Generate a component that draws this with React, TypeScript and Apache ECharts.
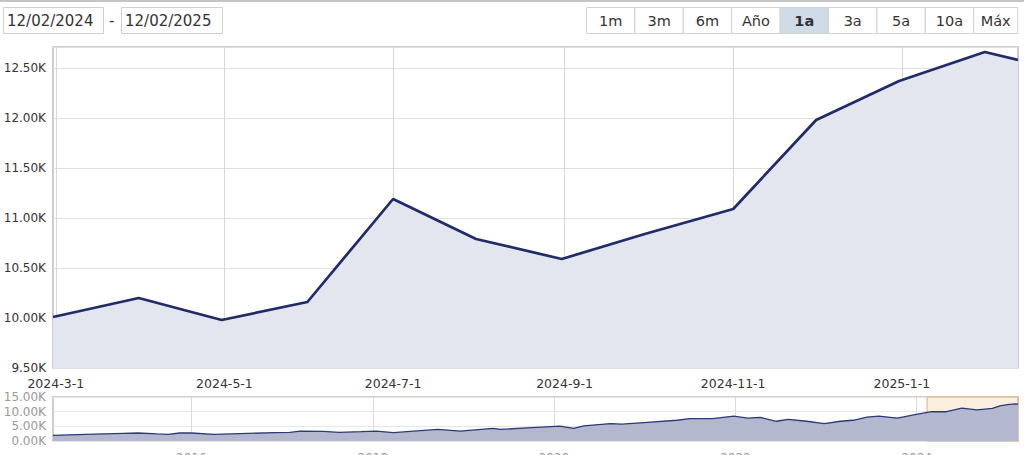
import React, { useEffect, useRef } from 'react';
import * as echarts from 'echarts';

// ---- data ----
const mainDates = ['2024-02-29', '2024-03-31', '2024-04-30', '2024-05-31', '2024-07-01', '2024-07-31', '2024-08-31', '2024-09-30', '2024-11-01', '2024-12-01', '2024-12-31', '2025-01-31', '2025-02-12'];
const mainValues = [10010, 10200, 9980, 10160, 11190, 10790, 10590, 10840, 11090, 11980, 12370, 12660, 12580];
const mainTickDates = ['2024-03-01', '2024-05-01', '2024-07-01', '2024-09-01', '2024-11-01', '2025-01-01'];

const navDates = ['2014-06-23', '2014-11-01', '2015-04-01', '2015-06-01', '2015-08-15', '2015-10-01', '2015-11-15', '2016-01-01', '2016-04-01', '2016-07-15', '2016-12-01', '2017-02-01', '2017-03-15', '2017-06-15', '2017-08-20', '2017-11-15', '2018-01-15', '2018-03-25', '2018-06-01', '2018-09-20', '2018-12-20', '2019-04-30', '2019-05-31', '2019-09-15', '2020-01-25', '2020-03-20', '2020-04-30', '2020-08-15', '2020-09-30', '2020-12-28', '2021-05-10', '2021-07-01', '2021-10-01', '2021-12-25', '2022-02-20', '2022-04-10', '2022-06-15', '2022-08-01', '2022-10-15', '2022-12-25', '2023-02-28', '2023-04-20', '2023-06-15', '2023-08-01', '2023-10-15', '2023-12-20', '2024-02-29', '2024-04-30', '2024-07-01', '2024-08-31', '2024-11-01', '2024-12-01', '2024-12-31', '2025-01-31', '2025-02-12'];
const navValues = [1930, 2270, 2600, 2730, 2400, 2270, 2730, 2730, 2270, 2500, 2830, 2930, 3400, 3270, 2930, 3200, 3400, 2830, 3270, 3930, 3400, 4270, 3930, 4500, 5070, 4270, 5170, 5930, 5730, 6270, 7070, 7600, 7600, 8500, 7830, 8070, 6730, 7400, 6730, 5930, 6730, 7070, 8170, 8500, 7830, 8930, 10010, 9980, 11190, 10590, 11090, 11980, 12370, 12660, 12580];
const navTickDates = ['2016-01-01', '2018-01-01', '2020-01-01', '2022-01-01', '2024-01-01'];
const navRange = ['2014-06-23', '2025-02-12'];
const selectionRange = ['2024-02-12', '2025-02-12'];

const rangeButtons = ['1m', '3m', '6m', 'Año', '1a', '3a', '5a', '10a', 'Máx'];
const activeButton = '1a';
const dateFrom = '12/02/2024';
const dateTo = '12/02/2025';

const FONT = '"DejaVu Sans", Verdana, sans-serif';
const ts = (s: string) => Date.parse(s + 'T00:00:00Z');
const kFmt = (v: number) => (v / 1000).toFixed(2) + 'K';
const dateFmt = (v: number) => {
  const d = new Date(v);
  return `${d.getUTCFullYear()}-${d.getUTCMonth() + 1}-${d.getUTCDate()}`;
};
const yearFmt = (v: number) => String(new Date(v).getUTCFullYear());

function buildGraphic() {
  const els: any[] = [];
  els.push({ type: 'rect', shape: { x: 0, y: 0, width: 1024, height: 2 }, style: { fill: '#c4c4c4' }, silent: true });
  const boxStyle = { fill: '#fff', stroke: '#cfcfcf', lineWidth: 1 };
  const txt = (text: string, x: number, y: number, opts: any = {}) => ({
    type: 'text',
    x,
    y,
    silent: true,
    style: {
      text,
      fontFamily: FONT,
      fontSize: 15,
      fill: '#333',
      textAlign: opts.align || 'left',
      align: opts.align || 'left',
      textVerticalAlign: 'middle',
      verticalAlign: 'middle',
      fontWeight: opts.bold ? 'bold' : 'normal',
      ...(opts.size ? { fontSize: opts.size } : {}),
    },
  });
  els.push({ type: 'rect', shape: { x: 3.5, y: 7.5, width: 100, height: 26 }, style: boxStyle, silent: true });
  els.push(txt(dateFrom, 7, 21));
  els.push(txt('-', 109, 21));
  els.push({ type: 'rect', shape: { x: 121.5, y: 7.5, width: 101, height: 26 }, style: boxStyle, silent: true });
  els.push(txt(dateTo, 125, 21));
  const bx0 = 586.5;
  const bw = 48.4;
  rangeButtons.forEach((b, i) => {
    const x = bx0 + i * bw;
    const w = i === rangeButtons.length - 1 ? 44 : bw;
    const active = b === activeButton;
    els.push({
      type: 'rect',
      shape: { x, y: 7.5, width: w, height: 26 },
      style: { fill: active ? '#cfdce7' : '#fff', stroke: '#d2d2d2', lineWidth: 1 },
      silent: true,
    });
    els.push(txt(b, x + w / 2, 21, { align: 'center', bold: active, size: 14.5 }));
  });
  return els;
}

export default function App() {
  const ref = useRef<HTMLDivElement>(null);
  useEffect(() => {
    if (!ref.current) return;
    const chart = echarts.init(ref.current, undefined, { renderer: 'svg' });
    const mainData = mainDates.map((d, i) => [ts(d), mainValues[i]]);
    const navData = navDates.map((d, i) => [ts(d), navValues[i]]);
    const mainTicks = mainTickDates.map(ts);
    const navTicks = navTickDates.map(ts);
    chart.setOption({
      animation: false,
      textStyle: { fontFamily: FONT },
      graphic: buildGraphic(),
      grid: [
        { left: 53, top: 47, width: 965, height: 321, show: true, borderColor: '#bdbdbd', borderWidth: 1.5, backgroundColor: 'transparent', containLabel: false, outerBoundsMode: 'none' },
        { left: 53, top: 397, width: 965, height: 44, show: true, borderColor: '#bdbdbd', borderWidth: 1.5, backgroundColor: 'transparent', containLabel: false, outerBoundsMode: 'none' },
      ],
      xAxis: [
        {
          type: 'value',
          gridIndex: 0,
          min: ts(mainDates[0]),
          max: ts(mainDates[mainDates.length - 1]),
          axisLine: { show: false },
          axisTick: { show: false, customValues: mainTicks },
          axisLabel: { customValues: mainTicks, formatter: dateFmt, color: '#333', fontSize: 12.5, fontFamily: FONT, margin: 9 },
          splitLine: { show: true, lineStyle: { color: '#d6d6d6', width: 1 } },
        },
        {
          type: 'value',
          gridIndex: 1,
          min: ts(navRange[0]),
          max: ts(navRange[1]),
          axisLine: { show: false },
          axisTick: { show: false, customValues: navTicks },
          axisLabel: { customValues: navTicks, formatter: yearFmt, color: '#999', fontSize: 12, fontFamily: FONT, margin: 11 },
          splitLine: { show: true, lineStyle: { color: '#dadada', width: 1 } },
        },
      ],
      yAxis: [
        {
          type: 'value',
          gridIndex: 0,
          min: 9500,
          max: 12710,
          interval: 500,
          axisLine: { show: false },
          axisTick: { show: false },
          axisLabel: { formatter: kFmt, color: '#333', fontSize: 12, fontFamily: FONT, margin: 7, showMaxLabel: false },
          splitLine: { show: true, lineStyle: { color: '#e0e0e0', width: 1 } },
        },
        {
          type: 'value',
          gridIndex: 1,
          min: 0,
          max: 15000,
          interval: 5000,
          axisLine: { show: false },
          axisTick: { show: false },
          axisLabel: { formatter: kFmt, color: '#999', fontSize: 12, lineHeight: 12, fontFamily: FONT, margin: 7, showMinLabel: true, showMaxLabel: true, hideOverlap: false },
          splitLine: { show: true, lineStyle: { color: '#e6e6e6', width: 1 } },
        },
      ],
      series: [
        {
          type: 'line',
          xAxisIndex: 0,
          yAxisIndex: 0,
          data: mainData,
          symbol: 'none',
          lineStyle: { color: '#1f2c68', width: 2.7 },
          areaStyle: { color: '#e3e6ef', opacity: 1, origin: 'start' },
          silent: true,
        },
        {
          type: 'line',
          xAxisIndex: 1,
          yAxisIndex: 1,
          data: navData,
          symbol: 'none',
          lineStyle: { color: '#2c3977', width: 1.3 },
          areaStyle: { color: '#b3b8cf', opacity: 1, origin: 'start' },
          silent: true,
          markArea: {
            silent: true,
            itemStyle: { color: 'rgba(240, 200, 150, 0.3)', borderColor: 'rgba(226, 186, 140, 0.8)', borderWidth: 1.5 },
            data: [[{ xAxis: ts(selectionRange[0]) }, { xAxis: ts(selectionRange[1]) }]],
          },
        },
      ],
    });
    return () => chart.dispose();
  }, []);
  return <div ref={ref} style={{ position: 'absolute', left: 0, top: 0, width: 1024, height: 455 }} />;
}
